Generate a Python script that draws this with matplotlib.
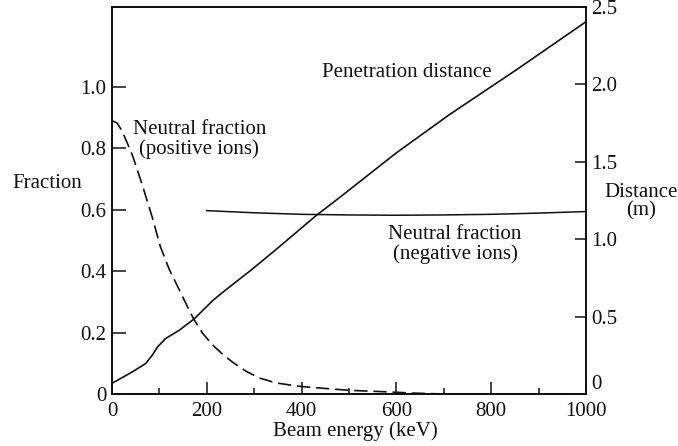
import matplotlib
matplotlib.use("Agg")
import matplotlib.pyplot as plt

plt.rcParams['font.family'] = ['Liberation Serif', 'DejaVu Serif']
plt.rcParams['font.size'] = 15

INK = '#111111'

# Penetration distance (m) vs beam energy (keV) -- right axis
pen_energy = [0, 43, 71, 85, 96, 113, 142, 174, 213, 234, 292, 344, 430, 480,
              600, 712, 853, 1000]
pen_distance = [0.069, 0.143, 0.197, 0.251, 0.304, 0.358, 0.412, 0.487, 0.605,
                0.658, 0.797, 0.928, 1.151, 1.269, 1.558, 1.805, 2.094, 2.405]

# Neutral fraction for positive ions -- left axis, dashed
pos_energy = [0, 11, 22, 43, 64, 85, 102, 121, 142, 159, 172, 191, 212, 233,
              254, 283, 311, 346, 395, 450, 500, 565, 635, 700]
pos_fraction = [0.89, 0.882, 0.854, 0.778, 0.680, 0.575, 0.480, 0.405, 0.339,
                0.285, 0.245, 0.198, 0.160, 0.130, 0.104, 0.074, 0.052, 0.036,
                0.025, 0.018, 0.012, 0.008, 0.003, 0.0]

# Neutral fraction for negative ions -- left axis
neg_energy = [200, 300, 400, 500, 600, 700, 800, 900, 1000]
neg_fraction = [0.597, 0.590, 0.585, 0.583, 0.582, 0.583, 0.585, 0.589, 0.594]

x_ticks = [0, 200, 400, 600, 800, 1000]
x_minor = [100, 300, 500, 700, 900]
frac_ticks = [0, 0.2, 0.4, 0.6, 0.8, 1.0]
frac_labels = ['0', '0.2', '0.4', '0.6', '0.8', '1.0']
dist_ticks = [0, 0.5, 1.0, 1.5, 2.0, 2.5]
dist_labels = ['0', '0.5', '1.0', '1.5', '2.0', '2.5']

W, H = 678, 446
fig = plt.figure(figsize=(W / 100, H / 100), dpi=100)
left_px, right_px, top_px, bot_px = 112, 586, 7, 394
ax = fig.add_axes([left_px / W, 1 - bot_px / H,
                   (right_px - left_px) / W, (bot_px - top_px) / H])
ax2 = ax.twinx()

ax.set_xlim(0, 1000)
ax.set_ylim(0, 1.26)
ax2.set_ylim(0, 2.5)

ax.plot(pos_energy, pos_fraction, color=INK, lw=1.2, dashes=(8, 3.5),
        solid_capstyle='butt')
ax.plot(neg_energy, neg_fraction, color=INK, lw=1.1)
ax2.plot(pen_energy, pen_distance, color=INK, lw=1.2)

for a in (ax, ax2):
    for s in a.spines.values():
        s.set_linewidth(1.3)
        s.set_color(INK)

ax.set_xticks(x_ticks)
ax.set_xticklabels([str(v) for v in x_ticks])
ax.set_xticks(x_minor, minor=True)
ax.set_yticks(frac_ticks)
ax.set_yticklabels(frac_labels)
ax2.set_yticks(dist_ticks)
ax2.set_yticklabels(dist_labels)

ax.tick_params(axis='x', which='major', direction='in', length=9, width=1.1,
               pad=6, colors=INK, labelsize=15)
ax.tick_params(axis='x', which='minor', direction='in', length=4, width=1.1,
               colors=INK)
ax.tick_params(axis='y', which='major', direction='in', length=10, width=1.1,
               pad=4, colors=INK, labelsize=15)
ax2.tick_params(axis='y', which='major', direction='in', length=8, width=1.1,
                pad=4, colors=INK, labelsize=15)

# lift the bottom right-hand label clear of the energy axis labels
ax2.get_yticklabels()[0].set_va('bottom')

ax.set_xlabel('Beam energy (keV)', fontsize=15, color=INK)
ax.xaxis.set_label_coords(0.513, -0.0956)
ax.xaxis.label.set_va('center')

ax.set_ylabel('Fraction', rotation=0, fontsize=15, color=INK,
              ha='center', va='center')
ax.yaxis.set_label_coords(-0.136, 0.545)

ax2.set_ylabel('Distance\n(m)', rotation=0, fontsize=15, color=INK,
               ha='center', va='center', multialignment='center',
               linespacing=1.0)
ax2.yaxis.set_label_coords(1.116, 0.497)

ax2.text(444, 2.08, 'Penetration distance', fontsize=15, color=INK,
         ha='left', va='center')
ax.text(184, 0.829, 'Neutral fraction\n(positive ions)', fontsize=15,
        color=INK, ha='center', va='center', multialignment='center',
        linespacing=1.0)
ax.text(724, 0.486, 'Neutral fraction\n(negative ions)', fontsize=15,
        color=INK, ha='center', va='center', multialignment='center',
        linespacing=1.0)

fig.savefig('out.png', dpi=100, facecolor='white')
